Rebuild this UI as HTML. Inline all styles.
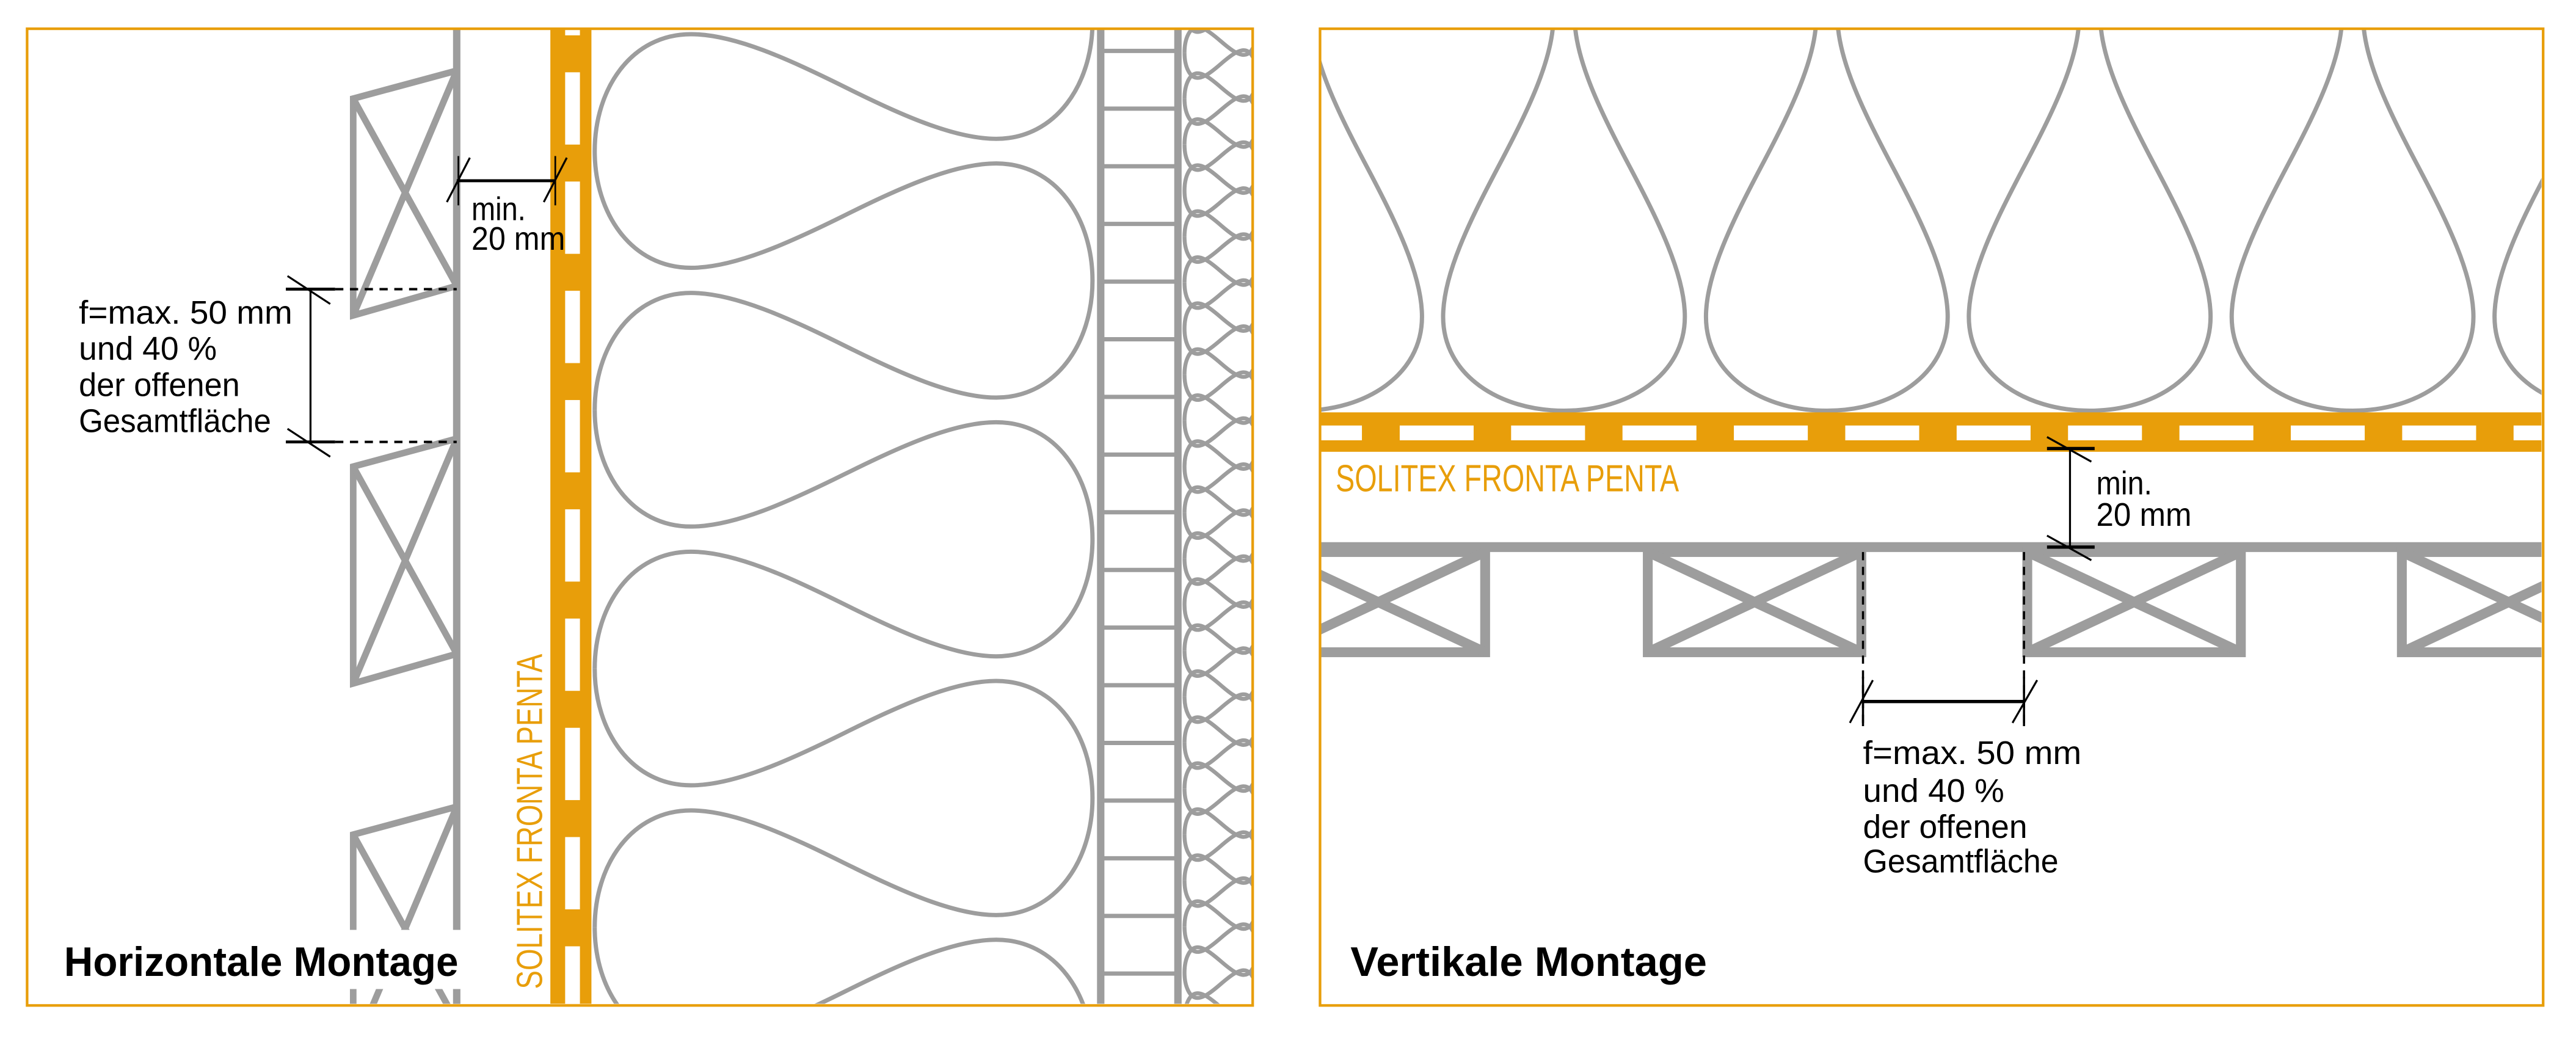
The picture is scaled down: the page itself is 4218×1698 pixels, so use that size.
<!DOCTYPE html>
<html><head><meta charset="utf-8">
<style>
html,body{margin:0;padding:0;background:#fff;width:4218px;height:1698px;overflow:hidden;}
svg{display:block;position:absolute;left:0;top:0;}
text{font-family:"Liberation Sans Narrow","Liberation Sans",sans-serif;}
</style></head>
<body>
<svg width="4218" height="1698" viewBox="0 0 1568 631.2" preserveAspectRatio="none" xmlns="http://www.w3.org/2000/svg" xmlns:xlink="http://www.w3.org/1999/xlink">
<defs>
<clipPath id="cl"><rect x="17" y="18" width="745" height="593"/></clipPath>
<clipPath id="cr"><rect x="804" y="18" width="743" height="593"/></clipPath>
<path id="big" d="M362,92 C362,130 384.3,163 420.6,163 C446.9,163 480.2,147.9 513.5,131.4 C546.8,114.9 580.1,99.5 606.4,99.5 C642.7,99.5 665,132.75 665,170.75 C665,208.75 642.7,242 606.4,242 C580.1,242 546.8,226.6 513.5,210.1 C480.2,193.6 446.9,178.3 420.6,178.3 C384.3,178.3 362,211.5 362,249.5"/>
<path id="sm" d="M721,4 C721,12.18 724.02,19.42 729,19.42 C732.9,19.42 737.94,15.36 743,11 C748.06,6.64 753.1,2.59 757,2.59 C761.98,2.59 765,9.82 765,18 C765,26.18 761.98,33.41 757,33.41 C753.1,33.41 748.06,29.36 743,25 C737.94,20.64 732.9,16.58 729,16.58 C724.02,16.58 721,23.82 721,32"/>
<path id="drop" d="M872,-47 C911.2,-47 945.56,-25.3 945.56,10.2 C945.56,36.1 929.3,68.7 912,101.5 C894.7,134.3 878.42,166.9 878.42,192.8 C878.42,228.3 912.8,250 952,250 C991.2,250 1025.56,228.3 1025.56,192.8 C1025.56,166.9 1009.3,134.3 992,101.5 C974.7,68.7 958.44,36.1 958.44,10.2 C958.44,-25.3 992.8,-47 1032,-47"/>
<g id="bat">
  <polygon points="215,60 278,43 278,174 215,192"/>
  <line x1="215" y1="60" x2="278" y2="174"/>
  <line x1="215" y1="192" x2="278" y2="43"/>
</g>
<g id="rbx">
  <rect x="774" y="336" width="130" height="61"/>
  <line x1="774" y1="336" x2="904" y2="397"/>
  <line x1="774" y1="397" x2="904" y2="336"/>
</g>
</defs>
<rect width="1568" height="631.2" fill="#fff"/>

<!-- LEFT PANEL -->
<g clip-path="url(#cl)">
  <g fill="none" stroke="#9d9d9d" stroke-width="2.6">
    <use xlink:href="#big" href="#big" transform="translate(0,-157.5)"/>
    <use xlink:href="#big" href="#big"/>
    <use xlink:href="#big" href="#big" transform="translate(0,157.5)"/>
    <use xlink:href="#big" href="#big" transform="translate(0,315)"/>
    <use xlink:href="#big" href="#big" transform="translate(0,472.5)"/>
  </g>
  <g fill="none" stroke="#9d9d9d" stroke-width="2.4">
    <use href="#sm" xlink:href="#sm"/>
    <use href="#sm" xlink:href="#sm" transform="translate(0,28)"/>
    <use href="#sm" xlink:href="#sm" transform="translate(0,56)"/>
    <use href="#sm" xlink:href="#sm" transform="translate(0,84)"/>
    <use href="#sm" xlink:href="#sm" transform="translate(0,112)"/>
    <use href="#sm" xlink:href="#sm" transform="translate(0,140)"/>
    <use href="#sm" xlink:href="#sm" transform="translate(0,168)"/>
    <use href="#sm" xlink:href="#sm" transform="translate(0,196)"/>
    <use href="#sm" xlink:href="#sm" transform="translate(0,224)"/>
    <use href="#sm" xlink:href="#sm" transform="translate(0,252)"/>
    <use href="#sm" xlink:href="#sm" transform="translate(0,280)"/>
    <use href="#sm" xlink:href="#sm" transform="translate(0,308)"/>
    <use href="#sm" xlink:href="#sm" transform="translate(0,336)"/>
    <use href="#sm" xlink:href="#sm" transform="translate(0,364)"/>
    <use href="#sm" xlink:href="#sm" transform="translate(0,392)"/>
    <use href="#sm" xlink:href="#sm" transform="translate(0,420)"/>
    <use href="#sm" xlink:href="#sm" transform="translate(0,448)"/>
    <use href="#sm" xlink:href="#sm" transform="translate(0,476)"/>
    <use href="#sm" xlink:href="#sm" transform="translate(0,504)"/>
    <use href="#sm" xlink:href="#sm" transform="translate(0,532)"/>
    <use href="#sm" xlink:href="#sm" transform="translate(0,560)"/>
    <use href="#sm" xlink:href="#sm" transform="translate(0,588)"/>
  </g>
  <g stroke="#9d9d9d">
    <line x1="670" y1="17" x2="670" y2="612" stroke-width="4.5"/>
    <line x1="717" y1="17" x2="717" y2="612" stroke-width="4.5"/>
    <g stroke-width="2.6">
      <line x1="670" y1="31" x2="717" y2="31"/>
      <line x1="670" y1="66.1" x2="717" y2="66.1"/>
      <line x1="670" y1="101.2" x2="717" y2="101.2"/>
      <line x1="670" y1="136.3" x2="717" y2="136.3"/>
      <line x1="670" y1="171.4" x2="717" y2="171.4"/>
      <line x1="670" y1="206.5" x2="717" y2="206.5"/>
      <line x1="670" y1="241.6" x2="717" y2="241.6"/>
      <line x1="670" y1="276.7" x2="717" y2="276.7"/>
      <line x1="670" y1="311.8" x2="717" y2="311.8"/>
      <line x1="670" y1="346.9" x2="717" y2="346.9"/>
      <line x1="670" y1="382" x2="717" y2="382"/>
      <line x1="670" y1="417.1" x2="717" y2="417.1"/>
      <line x1="670" y1="452.2" x2="717" y2="452.2"/>
      <line x1="670" y1="487.3" x2="717" y2="487.3"/>
      <line x1="670" y1="522.4" x2="717" y2="522.4"/>
      <line x1="670" y1="557.5" x2="717" y2="557.5"/>
      <line x1="670" y1="592.6" x2="717" y2="592.6"/>
    </g>
  </g>
  <g fill="none" stroke="#9d9d9d" stroke-width="4">
    <use href="#bat" xlink:href="#bat"/>
    <use href="#bat" xlink:href="#bat" transform="translate(0,224)"/>
    <use href="#bat" xlink:href="#bat" transform="translate(0,448)"/>
  </g>
  <line x1="278" y1="17" x2="278" y2="612" stroke="#9d9d9d" stroke-width="4.5"/>
  <rect x="335" y="17" width="25" height="595" fill="#e89e0a"/>
  <g fill="#fff">
    <rect x="344" y="17" width="9" height="4.5"/>
    <rect x="344" y="44" width="9" height="44"/>
    <rect x="344" y="110.5" width="9" height="44"/>
    <rect x="344" y="177" width="9" height="44"/>
    <rect x="344" y="243.5" width="9" height="44"/>
    <rect x="344" y="310" width="9" height="44"/>
    <rect x="344" y="376.5" width="9" height="44"/>
    <rect x="344" y="443" width="9" height="44"/>
    <rect x="344" y="509.5" width="9" height="44"/>
    <rect x="344" y="576" width="9" height="36"/>
  </g>
  <rect x="20" y="566" width="264" height="36" fill="#fff"/>
</g>
<rect x="16.5" y="17.5" width="746" height="594.5" fill="none" stroke="#e89e0a" stroke-width="1.6"/>

<g stroke="#000" fill="none">
  <line x1="278" y1="110" x2="338" y2="110" stroke-width="1.8"/>
  <line x1="279" y1="95" x2="279" y2="125" stroke-width="1"/>
  <line x1="338" y1="95" x2="338" y2="125" stroke-width="1"/>
  <line x1="272" y1="123" x2="286" y2="96" stroke-width="1.2"/>
  <line x1="331" y1="123" x2="345" y2="96" stroke-width="1.2"/>
  <line x1="189" y1="176" x2="189" y2="269" stroke-width="1.2"/>
  <line x1="174" y1="176" x2="204" y2="176" stroke-width="1.8"/>
  <line x1="204" y1="176" x2="278" y2="176" stroke-width="1.5" stroke-dasharray="5,4"/>
  <line x1="174" y1="269" x2="204" y2="269" stroke-width="1.8"/>
  <line x1="204" y1="269" x2="278" y2="269" stroke-width="1.5" stroke-dasharray="5,4"/>
  <line x1="175" y1="168" x2="201" y2="185" stroke-width="1.2"/>
  <line x1="175" y1="261" x2="201" y2="278" stroke-width="1.2"/>
</g>
<g fill="#000" font-size="20">
  <text x="287" y="134" textLength="33" lengthAdjust="spacingAndGlyphs">min.</text>
  <text x="287" y="152" textLength="57" lengthAdjust="spacingAndGlyphs">20 mm</text>
  <text x="48" y="197" textLength="130" lengthAdjust="spacingAndGlyphs">f=max. 50 mm</text>
  <text x="48" y="219" textLength="84" lengthAdjust="spacingAndGlyphs">und 40 %</text>
  <text x="48" y="241" textLength="98" lengthAdjust="spacingAndGlyphs">der offenen</text>
  <text x="48" y="263" textLength="117" lengthAdjust="spacingAndGlyphs">Gesamtfläche</text>
  <text x="39" y="594" font-size="25" font-weight="bold" textLength="240" lengthAdjust="spacingAndGlyphs">Horizontale Montage</text>
</g>
<text transform="translate(330,602) rotate(-90)" fill="#e89e0a" font-size="22" textLength="204" lengthAdjust="spacingAndGlyphs">SOLITEX FRONTA PENTA</text>

<!-- RIGHT PANEL -->
<g clip-path="url(#cr)">
  <g fill="none" stroke="#9d9d9d" stroke-width="2.6">
    <use href="#drop" xlink:href="#drop" transform="translate(-160,0)"/>
    <use href="#drop" xlink:href="#drop"/>
    <use href="#drop" xlink:href="#drop" transform="translate(160,0)"/>
    <use href="#drop" xlink:href="#drop" transform="translate(320,0)"/>
    <use href="#drop" xlink:href="#drop" transform="translate(480,0)"/>
    <use href="#drop" xlink:href="#drop" transform="translate(640,0)"/>
  </g>
  <rect x="803" y="251" width="745" height="24" fill="#e89e0a"/>
  <g fill="#fff">
    <rect x="804" y="259" width="25" height="9"/>
    <rect x="852" y="259" width="45" height="9"/>
    <rect x="919.8" y="259" width="45" height="9"/>
    <rect x="987.6" y="259" width="45" height="9"/>
    <rect x="1055.4" y="259" width="45" height="9"/>
    <rect x="1123.2" y="259" width="45" height="9"/>
    <rect x="1191" y="259" width="45" height="9"/>
    <rect x="1258.8" y="259" width="45" height="9"/>
    <rect x="1326.6" y="259" width="45" height="9"/>
    <rect x="1394.4" y="259" width="45" height="9"/>
    <rect x="1462.2" y="259" width="45" height="9"/>
    <rect x="1530" y="259" width="18" height="9"/>
  </g>
  <line x1="803" y1="333" x2="1548" y2="333" stroke="#9d9d9d" stroke-width="6"/>
  <g fill="none" stroke="#9d9d9d" stroke-width="6">
    <use href="#rbx" xlink:href="#rbx"/>
    <use href="#rbx" xlink:href="#rbx" transform="translate(229,0)"/>
    <use href="#rbx" xlink:href="#rbx" transform="translate(460,0)"/>
    <use href="#rbx" xlink:href="#rbx" transform="translate(688,0)"/>
  </g>
</g>
<rect x="803.5" y="17.5" width="744.5" height="594.5" fill="none" stroke="#e89e0a" stroke-width="1.6"/>

<g stroke="#000" fill="none">
  <line x1="1260" y1="273" x2="1260" y2="333" stroke-width="1.2"/>
  <line x1="1246" y1="273" x2="1275" y2="273" stroke-width="2"/>
  <line x1="1246" y1="333" x2="1275" y2="333" stroke-width="2"/>
  <line x1="1246" y1="266" x2="1273" y2="281" stroke-width="1.2"/>
  <line x1="1246" y1="326" x2="1273" y2="341" stroke-width="1.2"/>
  <line x1="1134" y1="427" x2="1232" y2="427" stroke-width="2"/>
  <line x1="1134" y1="336" x2="1134" y2="442" stroke-width="1.3" stroke-dasharray="5,4"/>
  <line x1="1232" y1="336" x2="1232" y2="442" stroke-width="1.3" stroke-dasharray="5,4"/>
  <line x1="1134" y1="412" x2="1134" y2="442" stroke-width="1.3"/>
  <line x1="1232" y1="412" x2="1232" y2="442" stroke-width="1.3"/>
  <line x1="1126" y1="440" x2="1140" y2="414" stroke-width="1.2"/>
  <line x1="1225" y1="440" x2="1240" y2="414" stroke-width="1.2"/>
</g>
<g fill="#000" font-size="20">
  <text x="1276" y="301" textLength="34" lengthAdjust="spacingAndGlyphs">min.</text>
  <text x="1276" y="320" textLength="58" lengthAdjust="spacingAndGlyphs">20 mm</text>
  <text x="1134" y="465" textLength="133" lengthAdjust="spacingAndGlyphs">f=max. 50 mm</text>
  <text x="1134" y="488" textLength="86" lengthAdjust="spacingAndGlyphs">und 40 %</text>
  <text x="1134" y="510" textLength="100" lengthAdjust="spacingAndGlyphs">der offenen</text>
  <text x="1134" y="531" textLength="119" lengthAdjust="spacingAndGlyphs">Gesamtfläche</text>
  <text x="822" y="594" font-size="25" font-weight="bold" textLength="217" lengthAdjust="spacingAndGlyphs">Vertikale Montage</text>
</g>
<text x="813" y="299" fill="#e89e0a" font-size="23" textLength="209" lengthAdjust="spacingAndGlyphs">SOLITEX FRONTA PENTA</text>
</svg>
</body></html>
